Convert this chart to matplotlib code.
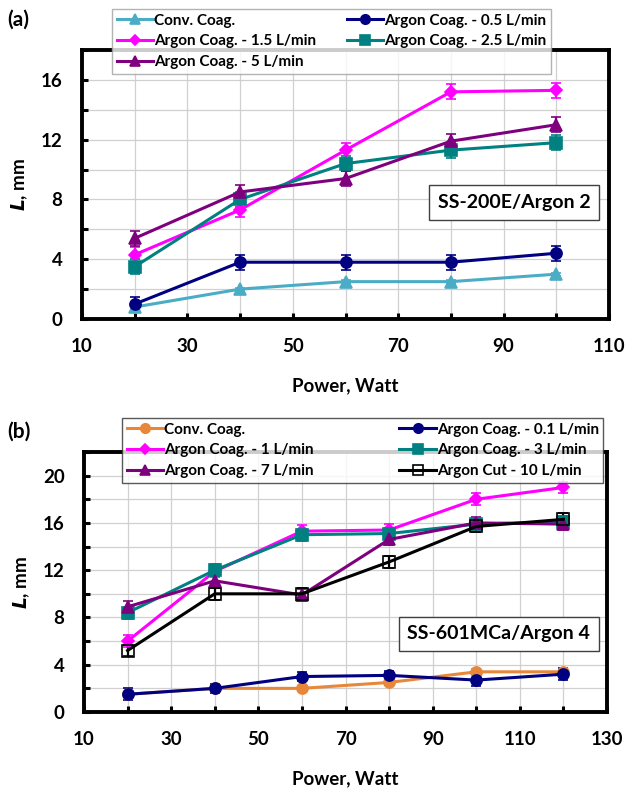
import matplotlib
matplotlib.use("Agg")
import matplotlib.pyplot as plt
from matplotlib.ticker import MultipleLocator
from matplotlib.lines import Line2D

plt.rcParams['font.family'] = ['Lato', 'DejaVu Sans']
plt.rcParams['font.weight'] = 'bold'

# ---------------- data: panel (a) ----------------
power_a = [20, 40, 60, 80, 100]
conv_a = [0.8, 2.0, 2.5, 2.5, 3.0]
conv_a_err = [0.2, 0.1, 0.1, 0.1, 0.1]
ar05_a = [1.0, 3.8, 3.8, 3.8, 4.4]
ar05_a_err = [0.5, 0.5, 0.5, 0.5, 0.5]
ar15_a = [4.3, 7.3, 11.3, 15.2, 15.3]
ar15_a_err = [0.5, 0.5, 0.5, 0.5, 0.5]
ar25_a = [3.5, 8.0, 10.4, 11.3, 11.8]
ar25_a_err = [0.5, 0.5, 0.5, 0.5, 0.5]
ar5_a = [5.4, 8.5, 9.4, 11.9, 13.0]
ar5_a_err = [0.5, 0.5, 0.5, 0.5, 0.5]
labels_a = ["Conv. Coag.", "Argon Coag. - 0.5 L/min", "Argon Coag. - 1.5 L/min",
            "Argon Coag. - 2.5 L/min", "Argon Coag. - 5 L/min"]

# ---------------- data: panel (b) ----------------
power_b = [20, 40, 60, 80, 100, 120]
conv_b = [1.5, 2.0, 2.0, 2.5, 3.4, 3.4]
conv_b_err = [0.2, 0.2, 0.2, 0.2, 0.2, 0.2]
ar01_b = [1.5, 2.0, 3.0, 3.1, 2.7, 3.2]
ar01_b_err = [0.5, 0.4, 0.4, 0.4, 0.5, 0.5]
ar1_b = [6.0, 11.9, 15.3, 15.4, 18.0, 19.0]
ar1_b_err = [0.5, 0.5, 0.5, 0.5, 0.5, 0.5]
ar3_b = [8.4, 12.0, 15.0, 15.1, 15.9, 16.1]
ar3_b_err = [0.5, 0.5, 0.5, 0.5, 0.5, 0.5]
ar7_b = [8.9, 11.1, 9.9, 14.6, 16.0, 15.9]
ar7_b_err = [0.5, 0.5, 0.5, 0.5, 0.5, 0.5]
cut10_b = [5.2, 10.0, 10.0, 12.7, 15.7, 16.3]
cut10_b_err = [0.5, 0.5, 0.5, 0.5, 0.5, 0.5]
labels_b = ["Conv. Coag.", "Argon Coag. - 0.1 L/min", "Argon Coag. - 1 L/min",
            "Argon Coag. - 3 L/min", "Argon Coag. - 7 L/min", "Argon Cut - 10 L/min"]

W, H = 625, 792
fig = plt.figure(figsize=(W / 100, H / 100), dpi=100)


def fx(px):
    return px / W


def fy(py):
    return 1 - py / H


def style_axes(ax, xmax, ymax):
    ax.set_xlim(10, xmax)
    ax.set_ylim(0, ymax)
    ax.xaxis.set_major_locator(MultipleLocator(20, offset=10))
    ax.xaxis.set_minor_locator(MultipleLocator(10))
    ax.yaxis.set_major_locator(MultipleLocator(4))
    ax.yaxis.set_minor_locator(MultipleLocator(2))
    ax.grid(True, which='both', color='#d0d0d0', lw=0.9)
    ax.set_axisbelow(True)
    for s in ax.spines.values():
        s.set_linewidth(2.8)
        s.set_color('black')
    ax.tick_params(which='both', direction='in', length=4, width=2.2,
                   labelsize=13.5, top=False, right=False)
    ax.tick_params(axis='x', pad=14)
    ax.tick_params(axis='y', pad=14)
    for lab in ax.get_xticklabels() + ax.get_yticklabels():
        lab.set_fontweight('bold')
    ax.set_xlabel("Power, Watt", fontsize=13.5, fontweight='bold', labelpad=16)
    ax.set_ylabel("$\\mathbfit{L}$, mm", fontsize=13.5, fontweight='bold', labelpad=8)


def series(ax, x, y, e, color, marker, label, ms=8, mfc=None):
    face = mfc if mfc is not None else color
    ax.errorbar(x, y, yerr=e, color=color, marker=marker, ms=ms, lw=2.2,
                mfc=face, mec=color, mew=1.2,
                elinewidth=1.6, capsize=3.5, capthick=1.6, zorder=3)
    return Line2D([], [], color=color, marker=marker, ms=ms * 0.85, lw=2.2,
                  mfc=face, mec=color, mew=1.2, label=label)


def add_legend(ax, handles, order, anchor, colsp, edge):
    hs = [handles[i] for i in order]
    leg = ax.legend(handles=hs, loc='upper left', bbox_to_anchor=anchor,
                    bbox_transform=fig.transFigure, ncol=2, fontsize=11,
                    frameon=True, fancybox=False, edgecolor=edge,
                    handlelength=2.4, handletextpad=0.05, columnspacing=colsp,
                    borderpad=0.3, labelspacing=0.45, borderaxespad=0)
    leg.get_frame().set_linewidth(1.0)
    leg.set_zorder(10)
    return leg


# ---------------- panel (a) ----------------
axa = fig.add_axes([fx(82), fy(319), fx(609) - fx(82), fy(50) - fy(319)])
style_axes(axa, 110, 18)
ha = [
    series(axa, power_a, conv_a, conv_a_err, '#4bacc6', '^', labels_a[0], ms=8),
    series(axa, power_a, ar05_a, ar05_a_err, '#000080', 'o', labels_a[1], ms=8),
    series(axa, power_a, ar15_a, ar15_a_err, '#ff00ff', 'D', labels_a[2], ms=6),
    series(axa, power_a, ar25_a, ar25_a_err, '#008080', 's', labels_a[3], ms=8),
    series(axa, power_a, ar5_a, ar5_a_err, '#7f007f', '^', labels_a[4], ms=8),
]
add_legend(axa, ha, [0, 2, 4, 1, 3], (fx(112), fy(9)), 2.0, '#a0a0a0')
axa.text(0.82, 0.433, "SS-200E/Argon 2", transform=axa.transAxes,
         ha='center', va='center', fontsize=14, fontweight='bold', zorder=5,
         bbox=dict(boxstyle='square,pad=0.45', fc='white', ec='#404040', lw=1.0))
fig.text(fx(7), fy(20), "(a)", fontsize=15, fontweight='bold', va='center', ha='left')

# ---------------- panel (b) ----------------
axb = fig.add_axes([fx(84), fy(712), fx(607) - fx(84), fy(452) - fy(712)])
style_axes(axb, 130, 22)
hb = [
    series(axb, power_b, conv_b, conv_b_err, '#e8873a', 'o', labels_b[0], ms=8),
    series(axb, power_b, ar01_b, ar01_b_err, '#000080', 'o', labels_b[1], ms=8),
    series(axb, power_b, ar1_b, ar1_b_err, '#ff00ff', 'D', labels_b[2], ms=6),
    series(axb, power_b, ar3_b, ar3_b_err, '#008080', 's', labels_b[3], ms=8),
    series(axb, power_b, ar7_b, ar7_b_err, '#7f007f', '^', labels_b[4], ms=8),
    series(axb, power_b, cut10_b, cut10_b_err, '#000000', 's', labels_b[5], ms=8, mfc='none'),
]
add_legend(axb, hb, [0, 2, 4, 1, 3, 5], (fx(122), fy(418)), 5.6, '#303030')
axb.text(0.793, 0.30, "SS-601MCa/Argon 4", transform=axb.transAxes,
         ha='center', va='center', fontsize=14, fontweight='bold', zorder=5,
         bbox=dict(boxstyle='square,pad=0.45', fc='white', ec='#404040', lw=1.0))
fig.text(fx(7), fy(432), "(b)", fontsize=15, fontweight='bold', va='center', ha='left')

fig.savefig("out.png", dpi=100)
